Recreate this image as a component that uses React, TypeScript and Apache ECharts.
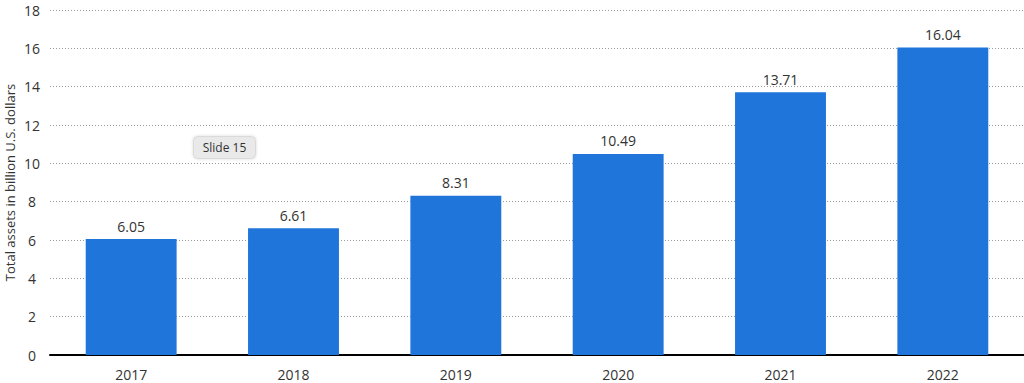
import React, { useEffect, useRef } from "react";
import * as echarts from "echarts";

const categories = ["2017", "2018", "2019", "2020", "2021", "2022"];
const values = [6.05, 6.61, 8.31, 10.49, 13.71, 16.04];
const yTicks = { min: 0, max: 18, interval: 2 };
const yTitle = "Total assets in billion U.S. dollars";
const noteText = "Slide 15";

export default function App() {
  const ref = useRef<HTMLDivElement>(null);
  useEffect(() => {
    document.body.style.margin = "0";
    const chart = echarts.init(ref.current!, null, { renderer: "svg" });
    chart.setOption({
      animation: false,
      grid: { left: 50, right: 0, top: 10, bottom: 28, containLabel: false, outerBoundsMode: "none" },
      xAxis: {
        type: "category",
        data: categories,
        axisLine: { lineStyle: { color: "#000", width: 2 } },
        axisTick: { show: false },
        axisLabel: { color: "#333", fontSize: 14, fontFamily: "Open Sans", margin: 12 },
      },
      yAxis: {
        type: "value",
        min: yTicks.min,
        max: yTicks.max,
        interval: yTicks.interval,
        name: yTitle,
        nameLocation: "middle",
        nameGap: 34,
        nameMoveOverlap: false,
        nameTextStyle: { color: "#333", fontSize: 13, fontFamily: "Open Sans" },
        axisLabel: { color: "#333", fontSize: 14, fontFamily: "Open Sans", margin: 18, align: "center" },
        splitLine: { lineStyle: { color: "#999", type: [1, 2], width: 1 } },
        axisLine: { show: false },
        axisTick: { show: false },
      },
      series: [
        {
          type: "bar",
          data: values,
          barCategoryGap: "44%",
          itemStyle: { color: "#1f75da" },
          label: {
            show: true,
            position: "top",
            distance: 6,
            color: "#333",
            fontSize: 14,
            fontFamily: "Open Sans",
            formatter: (p: any) => p.value.toFixed(2),
          },
        },
      ],
      graphic: [
        {
          type: "group",
          left: 193,
          top: 136,
          children: [
            {
              type: "rect",
              shape: { x: 0, y: 0, width: 62, height: 22, r: 4 },
              style: { fill: "#e9e9e9", stroke: "#dadada", lineWidth: 1, shadowBlur: 3, shadowColor: "rgba(0,0,0,0.15)" },
            },
            {
              type: "text",
              x: 31,
              y: 11,
              style: { text: noteText, fill: "#333", fontSize: 12, fontFamily: "Open Sans", align: "center", verticalAlign: "middle" },
            },
          ],
        },
      ],
    });
    return () => chart.dispose();
  }, []);
  return <div ref={ref} style={{ width: 1024, height: 383 }} />;
}
